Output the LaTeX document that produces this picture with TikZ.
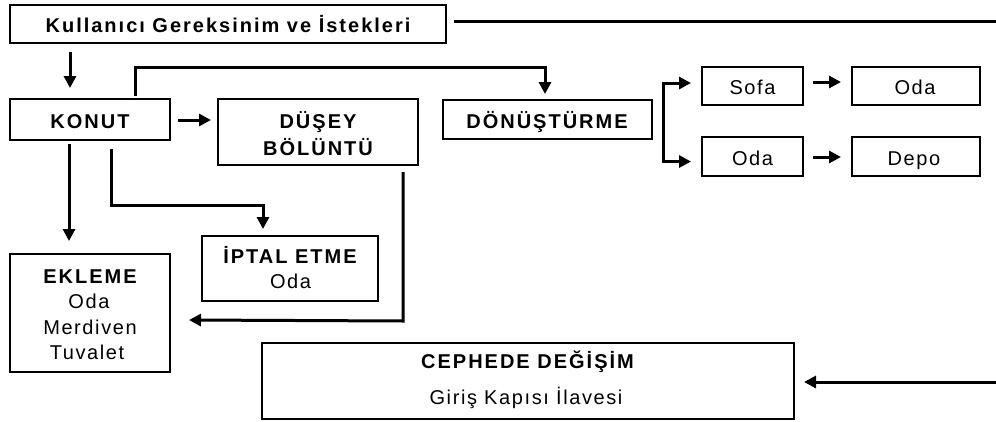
\documentclass[tikz,border=0pt]{standalone}
\usepackage{fontspec}
\usetikzlibrary{arrows.meta,calc}
\newfontfamily\lsb{Liberation Sans}[LetterSpace=10]
\newfontfamily\lsr{Liberation Sans}[LetterSpace=8]
\tikzset{
  box/.style={draw, line width=2pt, inner sep=0pt},
  hd/.style={font=\lsb\bfseries\fontsize{20}{24}\selectfont, inner sep=0pt, anchor=base},
  tx/.style={font=\lsr\fontsize{20}{24}\selectfont, inner sep=0pt, anchor=base},
  ln/.style={line width=3pt},
  arr/.style={line width=3pt, -{Triangle[length=12pt,width=12pt]}}
}
\begin{document}
\begin{tikzpicture}[x=1pt,y=-1pt]
\useasboundingbox[fill=white] (0,0) rectangle (996,421);
% boxes
\node[box, minimum width=436pt, minimum height=38pt] (top) at (228,24) {};
\node[box, minimum width=160pt, minimum height=41pt] (konut) at (90,119.5) {};
\node[box, minimum width=200pt, minimum height=66pt] (dusey) at (318,132) {};
\node[box, minimum width=209pt, minimum height=39pt] (donus) at (547.5,119.5) {};
\node[box, minimum width=101pt, minimum height=38pt] (sofa) at (752.5,86) {};
\node[box, minimum width=128pt, minimum height=38pt] (oda1) at (916,86) {};
\node[box, minimum width=101pt, minimum height=39pt] (oda2) at (752.5,156.5) {};
\node[box, minimum width=128pt, minimum height=39pt] (depo) at (916,156.5) {};
\node[box, minimum width=160pt, minimum height=118pt] (ekleme) at (90,313) {};
\node[box, minimum width=176pt, minimum height=65pt] (iptal) at (290,268.5) {};
\node[box, minimum width=532pt, minimum height=76pt] (cephe) at (528,381) {};
% texts
\node[hd] (topT) at (228,32) {Kullanıcı Gereksinim ve İstekleri};
\node[hd] (konutT) at (90,128) {KONUT};
\node[hd] (duseyT1) at (318,128) {DÜŞEY};
\node[hd] (duseyT2) at (318,155) {BÖLÜNTÜ};
\node[hd] (donusT) at (547,128) {DÖNÜŞTÜRME};
\node[tx] (sofaT) at (752.5,94) {Sofa};
\node[tx] (oda1T) at (915,94) {Oda};
\node[tx] (oda2T) at (752.5,165) {Oda};
\node[tx] (depoT) at (914,165) {Depo};
\node[hd] (eklemeT) at (90,283) {EKLEME};
\node[tx] (eklemeT1) at (89,308.5) {Oda};
\node[tx] (eklemeT2) at (90,334) {Merdiven};
\node[tx] (eklemeT3) at (87,359.5) {Tuvalet};
\node[hd] (iptalT) at (290,263) {İPTAL ETME};
\node[tx] (iptalT1) at (290.5,288) {Oda};
\node[hd] (cepheT) at (527.5,368) {CEPHEDE DEĞİŞİM};
\node[tx] (cepheT1) at (526,404) {Giriş Kapısı İlavesi};
% free ends
\coordinate (rt1) at (996,21);
\coordinate (rt2) at (996,382);
\coordinate (br) at ($(donus.east)+(10,0)$);
% connectors
\draw[ln] ($(top.east)+(7,-3)$) -- (rt1);
\draw[arr] ($(top.south)+(-158,8)$) -- ($(konut.north)+(-20,-10)$);
\draw[arr] ($(konut.east)+(7,0.5)$) -- ($(dusey.west)+(-6,-12)$);
\draw[arr] ($(konut.north)+(45,-2)$) -- ++(0,-29) -| ($(donus.north)+(-2.5,-5)$);
\draw[arr] (br) |- ($(sofa.west)+(-10,-3)$);
\draw[arr] (br) |- ($(oda2.west)+(-10,5)$);
\draw[arr] ($(sofa.east)+(9,-4)$) -- ($(oda1.west)+(-10,-4)$);
\draw[arr] ($(oda2.east)+(9,0.5)$) -- ($(depo.west)+(-10,0.5)$);
\draw[arr] ($(konut.south)+(-21,3)$) -- ($(ekleme.north)+(-21,-12)$);
\draw[arr] ($(konut.south)+(21,8)$) -- ++(0,56) -| ($(iptal.north)+(-27,-6)$);
\draw[arr] ($(dusey.south)+(85,6)$) -- ++(0,149) -- ($(ekleme.east)+(18,7)$);
\draw[arr] (rt2) -- ($(cephe.east)+(9,1)$);
\end{tikzpicture}
\end{document}
